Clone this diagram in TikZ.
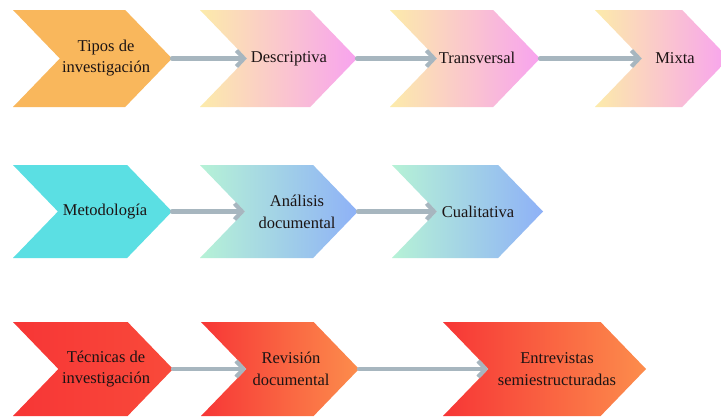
\documentclass[tikz,border=0pt]{standalone}
\usepackage{fontspec}
\setmainfont{Liberation Serif}
\newfontfamily\labelfont{Liberation Serif}
\usetikzlibrary{shapes.symbols,arrows.meta}

\definecolor{orangeA}{HTML}{F9B75C}
\definecolor{creamA}{HTML}{FCEBAA}
\definecolor{pinkA}{HTML}{F8A3EF}
\definecolor{cyanA}{HTML}{5BDFE3}
\definecolor{mintA}{HTML}{B6F2D6}
\definecolor{blueA}{HTML}{8EB1F7}
\definecolor{redA}{HTML}{F73636}
\definecolor{redB}{HTML}{F94A3A}
\definecolor{orangeB}{HTML}{FC8D4C}
\definecolor{linkgray}{HTML}{A7B6BF}
\definecolor{inkA}{HTML}{1C1414}

\tikzset{
  chev/.style={signal, signal to=east, signal from=west,
    signal pointer angle=92, draw=none, inner sep=0pt, outer sep=0pt},
  warm/.style={left color=creamA, right color=pinkA},
  cool/.style={left color=mintA, right color=blueA},
  hot/.style={left color=redA, right color=orangeB},
  label text/.style={font=\labelfont\fontsize{16.5}{21.5}\selectfont, text=inkA,
    align=center, inner sep=0pt},
  link/.style={draw=linkgray, line width=4.2pt, line cap=round, line join=round,
    -{Straight Barb[length=7.5pt,width=16pt]}}
}

% chevron: name, left x, tip x, top y, bottom y, style (y measured downward)
\newcommand{\mkchev}[6]{%
  \node[chev, #6, minimum width={(#3-#2)*1pt}, minimum height={(#5-#4)*1pt}]
    (#1) at ({(#2+#3)/2}, {-(#4+#5)/2}) {};%
}

\begin{document}
\begin{tikzpicture}[x=1pt, y=1pt]
\useasboundingbox[fill=white] (0,0) rectangle (721,-418);

% row 1
\mkchev{c11}{13}{172}{10}{107}{fill=orangeA}
\mkchev{c12}{200}{357}{10}{107}{warm}
\mkchev{c13}{390}{540}{10}{107}{warm}
\mkchev{c14}{595}{729}{10}{107}{warm}
% row 2
\mkchev{c21}{13}{172}{165}{258}{fill=cyanA}
\mkchev{c22}{200}{358}{165}{258}{cool}
\mkchev{c23}{392}{543}{165}{258}{cool}
% row 3
\mkchev{c31}{13}{173}{322}{416}{left color=redA, right color=redB}
\mkchev{c32}{201}{359}{322}{416}{hot}
\mkchev{c33}{443}{646}{322}{416}{hot}

% texts
\node[label text] (t11) at (106,-58) {Tipos de\\investigación};
\node[label text] (t12) at (289,-59) {Descriptiva};
\node[label text] (t13) at (477,-58) {Transversal};
\node[label text] (t14) at (675,-58) {Mixta};
\node[label text] (t21) at (105,-212) {Metodología};
\node[label text] (t22) at (297,-212) {Análisis\\documental};
\node[label text] (t23) at (478,-212) {Cualitativa};
\node[label text] (t31) at (106,-369) {Técnicas de\\investigación};
\node[label text] (t32) at (291,-369) {Revisión\\documental};
\node[label text] (t33) at (557,-369) {Entrevistas\\semiestructuradas};

% connectors: tip of one chevron to the notch of the next
\draw[link] (c11.east) -- (c12.west);
\draw[link] (c12.east) -- (c13.west);
\draw[link] (c13.east) -- (c14.west);
\draw[link] (c21.east) -- (c22.west);
\draw[link] (c22.east) -- (c23.west);
\draw[link] (c31.east) -- (c32.west);
\draw[link] (c32.east) -- (c33.west);
\end{tikzpicture}
\end{document}
